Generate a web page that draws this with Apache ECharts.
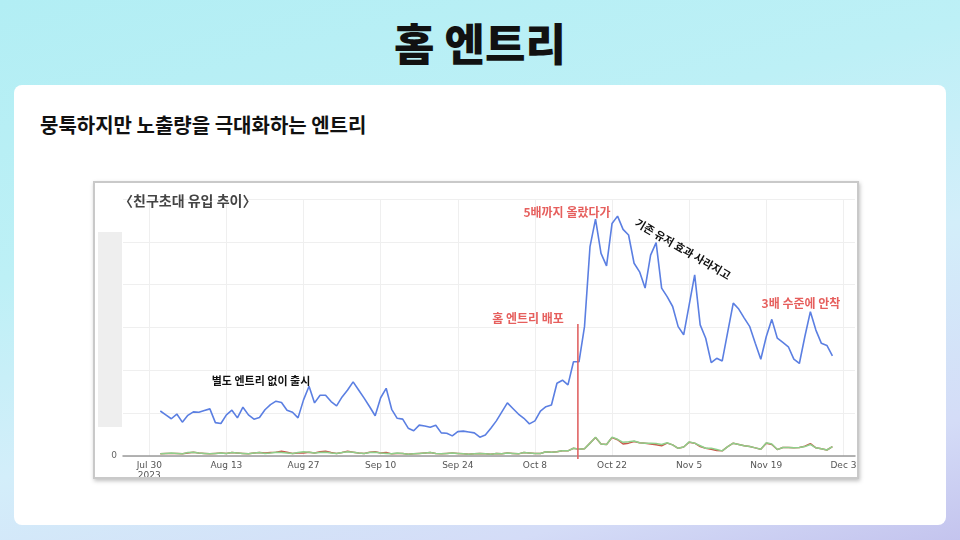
<!DOCTYPE html>
<html>
<head>
<meta charset="utf-8">
<script src="https://cdn.jsdelivr.net/npm/echarts@6/dist/echarts.min.js"></script>
<style>
html,body{margin:0;padding:0;width:960px;height:540px;overflow:hidden;font-family:"Noto Sans CJK KR","Noto Sans",sans-serif;}
#bg{position:absolute;left:0;top:0;width:960px;height:540px;
 background:linear-gradient(165deg,#b2eef4 0%,#bdf0f6 35%,#d3eefa 60%,#d4dcf7 85%,#c4c4ee 100%);}
#title{position:absolute;left:0;top:11px;width:960px;text-align:center;font-size:44px;font-weight:900;line-height:62px;color:#111;}
#card{position:absolute;left:14px;top:85px;width:932px;height:440px;background:#fff;border-radius:8px;}
#sub{position:absolute;left:40px;top:111px;font-size:20px;font-weight:700;line-height:28px;color:#111;}
#frame{position:absolute;left:93px;top:181px;width:766px;height:298px;box-sizing:border-box;border:2px solid #c9c9c9;background:#fff;box-shadow:1px 2px 4px rgba(0,0,0,0.25);}
#chart{width:762px;height:294px;}
</style>
</head>
<body>
<div id="bg"></div>
<div id="title">홈 엔트리</div>
<div id="card"></div>
<div id="sub">뭉툭하지만 노출량을 극대화하는 엔트리</div>
<div id="frame"><div id="chart"></div></div>
<script>
// day offsets are counted from 2023-07-30 (day 0)
const startDay = 2; // Aug 1
const tickDays = [0, 14, 28, 42, 56, 70, 84, 98, 112, 126];
const tickLabels = ['Jul 30\n2023', 'Aug 13', 'Aug 27', 'Sep 10', 'Sep 24', 'Oct 8', 'Oct 22', 'Nov 5', 'Nov 19', 'Dec 3'];

const friendInvite = [
 105,96,87,98,79,95,103,102,106,110,
 78,76,96,107,89,114,96,86,90,108,
 120,128,125,107,102,89,131,163,124,142,
 142,127,117,138,154,173,154,135,115,94,
 136,158,109,88,86,65,59,72,70,67,
 72,54,53,47,57,58,56,54,44,49,
 65,82,103,124,111,98,88,75,82,105,
 115,119,170,177,166,220,220,302,489,553,
 473,444,543,560,529,516,450,430,392,469,
 498,392,372,349,302,283,353,423,306,275,
 218,228,222,290,357,343,322,302,263,226,
 279,319,275,265,255,226,216,279,337,294,
 263,258,234
];
const greenSeries = [
 5,6,7,6,5,8,9,7,6,
 5,6,7,6,8,7,6,5,7,8,
 6,7,9,8,7,6,8,10,9,7,
 8,9,7,6,8,10,9,7,6,8,
 9,7,6,5,7,6,4,5,6,7,
 8,6,5,6,7,6,5,4,5,6,
 5,4,6,5,7,6,5,8,7,6,
 6,10,9,10,12,12,18,16,17,30,
 44,28,27,44,39,32,33,35,31,30,
 30,29,27,31,26,18,21,33,30,24,
 18,18,15,12,22,30,27,24,22,19,
 16,31,28,15,20,20,19,20,22,27,
 19,17,14,22
];
const redSeries = [
 5,6,6,6,5,7,9,7,6,
 5,6,7,6,8,7,6,5,7,8,
 7,8,9,11,9,6,7,7,9,7,
 10,11,8,6,8,11,9,7,6,9,
 10,7,8,5,6,6,4,5,6,7,
 8,6,5,6,7,6,5,4,5,6,
 5,4,6,5,7,6,5,8,7,6,
 6,10,9,10,12,12,18,16,17,30,
 43,28,27,43,38,28,30,34,31,30,
 28,26,24,30,26,18,21,32,30,22,
 18,16,13,12,22,30,27,24,22,19,
 16,30,27,15,20,20,19,20,23,29,
 19,17,14,22
];
const launchDay = 77.8; // 홈 엔트리 배포
const launchRange = [-7, 308];

function toPairs(arr){ return arr.map((v,i)=>[startDay+i, v]); }

const chart = echarts.init(document.getElementById('chart'));
const redText = '#e65f5d';
const font = '"Noto Sans CJK KR","Noto Sans",sans-serif';
chart.setOption({
  animation:false,
  grid:{left:28, right:2, top:16, bottom:21, containLabel:false, outerBoundsMode:'none'},
  xAxis:{
    type:'value', min:-4.77, max:128.1,
    axisLine:{show:true, onZero:false, lineStyle:{color:'#9a9a9a', width:1.5}},
    axisTick:{show:false, customValues:tickDays},
    axisLabel:{customValues:tickDays, color:'#555', fontSize:9, fontFamily:'DejaVu Sans', margin:5, lineHeight:10,
      formatter:(v)=>{const i=tickDays.indexOf(Math.round(v)); return i>=0?tickLabels[i]:'';}},
    splitLine:{show:true, lineStyle:{color:'#efefef', width:1}}
  },
  yAxis:{
    type:'value', min:0, max:600, interval:100,
    axisLine:{show:false}, axisTick:{show:false},
    axisLabel:{color:'#666', fontSize:9, fontFamily:'DejaVu Sans', margin:6, formatter:(v)=>v===0?'0':''},
    splitLine:{show:true, lineStyle:{color:'#efefef', width:1}}
  },
  series:[
    {type:'line', data:toPairs(redSeries), symbol:'none', lineStyle:{color:'#c8564a', width:1.5}, z:2},
    {type:'line', data:toPairs(greenSeries), symbol:'none', lineStyle:{color:'#8fcf8a', width:1.5}, z:3},
    {type:'line', data:toPairs(friendInvite), symbol:'none', lineStyle:{color:'#5b7fe2', width:1.6}, z:4},
    {type:'line', data:[[launchDay, launchRange[0]],[launchDay, launchRange[1]]], symbol:'none', clip:false,
      lineStyle:{color:'#e06363', width:1.6}, z:5}
  ],
  graphic:[
    {type:'rect', left:3, top:49, shape:{width:24, height:195}, style:{fill:'#eeeeee'}, z:100},
    {type:'text', left:24, top:11, style:{text:'〈친구초대 유입 추이〉', fill:'#444', font:'bold 14px '+font}, z:100},
    {type:'text', x:166, y:198, style:{text:'별도 엔트리 없이 출시', fill:'#111', font:'bold 11px '+font, align:'center', verticalAlign:'middle'}, z:100},
    {type:'text', x:472, y:29, style:{text:'5배까지 올랐다가', fill:redText, font:'bold 12px '+font, align:'center', verticalAlign:'middle'}, z:100},
    {type:'text', x:433, y:135, style:{text:'홈 엔트리 배포', fill:redText, font:'bold 12px '+font, align:'center', verticalAlign:'middle'}, z:100},
    {type:'text', x:588, y:66, rotation:-0.53, style:{text:'기존 유저 효과 사라지고', fill:'#111', font:'bold 11px '+font, align:'center', verticalAlign:'middle'}, z:100},
    {type:'text', x:706, y:120, style:{text:'3배 수준에 안착', fill:redText, font:'bold 12px '+font, align:'center', verticalAlign:'middle'}, z:100}
  ]
});
</script>
</body>
</html>
